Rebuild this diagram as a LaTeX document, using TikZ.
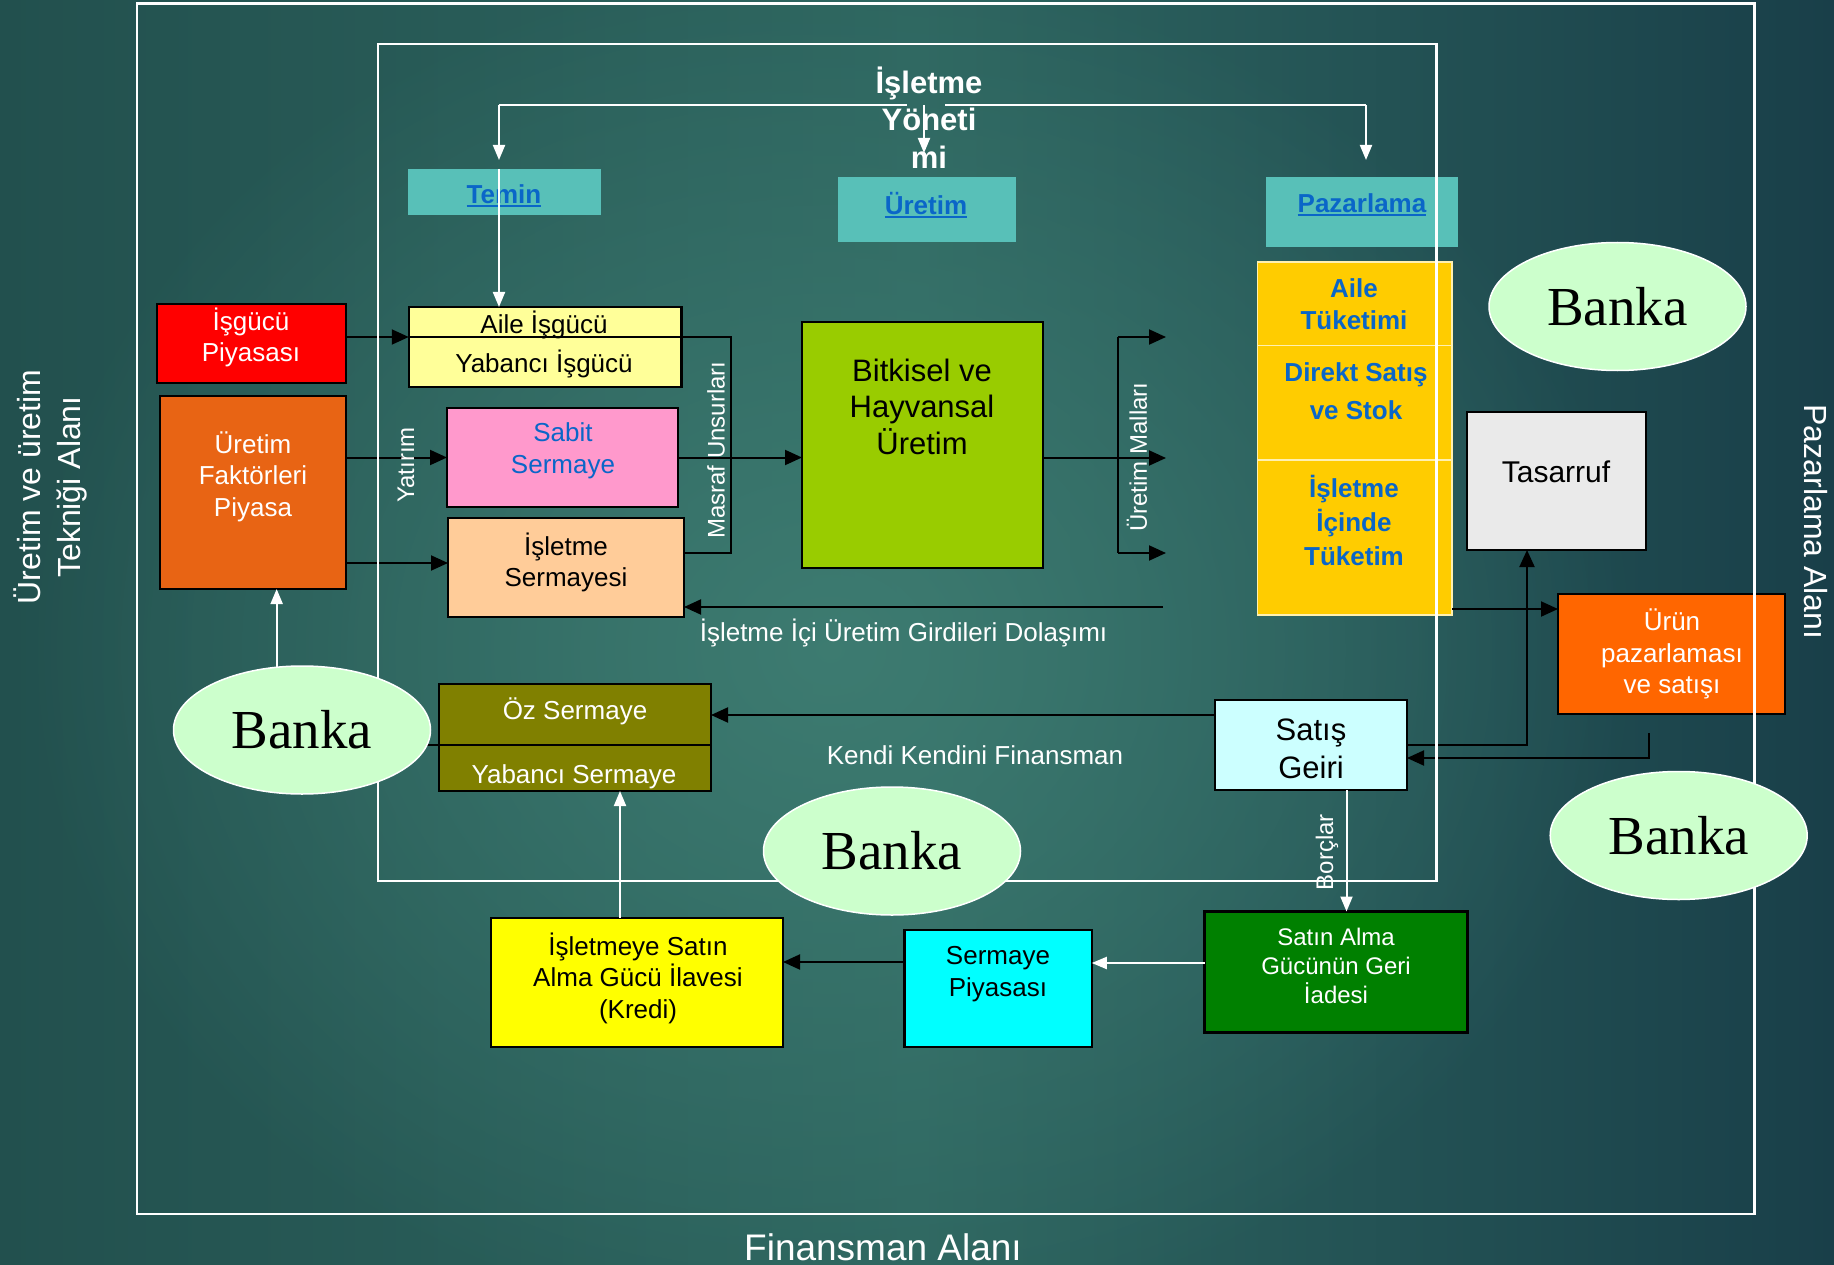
\documentclass[tikz,border=0pt]{standalone}
\usepackage{fontspec}
\setmainfont{Liberation Sans}
\newfontfamily\bankafont{Liberation Serif}
\usetikzlibrary{arrows.meta,shapes.geometric,fadings}
\tikzfading[name=glowfade, inner color=transparent!0, outer color=transparent!100]
\definecolor{bgL}{HTML}{22504E}
\definecolor{bgM}{HTML}{2E6660}
\definecolor{bgR}{HTML}{193F49}
\definecolor{bgGlow}{HTML}{3F7E73}
\definecolor{redbox}{HTML}{FF0000}
\definecolor{orangebox}{HTML}{E86414}
\definecolor{lightyel}{HTML}{FFFF99}
\definecolor{pinkbox}{HTML}{FF99CC}
\definecolor{peachbox}{HTML}{FFCC99}
\definecolor{limebox}{HTML}{99CC00}
\definecolor{goldbox}{HTML}{FFCC00}
\definecolor{tealbox}{HTML}{58C0B8}
\definecolor{greybox}{HTML}{EAEAEA}
\definecolor{urunbox}{HTML}{FF6600}
\definecolor{satisbox}{HTML}{CCFFFF}
\definecolor{greenbox}{HTML}{008000}
\definecolor{cyanbox}{HTML}{00FFFF}
\definecolor{yelbox}{HTML}{FFFF00}
\definecolor{olivebox}{HTML}{808000}
\definecolor{bankcol}{HTML}{CCFFCC}
\definecolor{bluetxt}{HTML}{0A66C8}
\definecolor{colline}{HTML}{FFF0B0}
\newcommand{\ulx}[1]{\setbox0\hbox{#1}\rlap{\rule[-3.5pt]{\wd0}{2.2pt}}\box0}
\pgfdeclarelayer{fg}
\pgfsetlayers{main,fg}
\begin{document}
\begin{tikzpicture}[x=1pt,y=-1pt,
  bx/.style={draw=black,line width=2.5pt,inner sep=0pt,outer sep=0pt},
  tbox/.style={fill=tealbox,inner sep=0pt,outer sep=0pt},
  bank/.style={ellipse,fill=bankcol,draw=white,line width=1.5pt,inner sep=0pt,outer sep=0pt,
    minimum width=257pt,minimum height=128pt,font=\bankafont\fontsize{55}{60}\selectfont},
  tx/.style={inner sep=0pt,align=center,font=\fontsize{26}{31.6}\selectfont},
  blt/.style={text=bluetxt,font=\bfseries\fontsize{26}{31.6}\selectfont},
  lab/.style={inner sep=0pt,text=white,font=\fontsize{24}{28}\selectfont},
  blk/.style={draw=black,line width=2pt},
  barr/.style={-{Triangle[length=17pt,width=15pt]}},
  wl/.style={draw=white,line width=2pt},
  warr/.style={-{Triangle[length=15pt,width=12pt]}}]
\useasboundingbox (0,0) rectangle (1834,1265);
\shade[left color=bgL,right color=bgR,middle color=bgM] (0,0) rectangle (1834,1265);
\fill[bgGlow,path fading=glowfade,fill opacity=0.9] (20,-50) rectangle (1640,1350);

% Banka ellipses (foreground layer)
\begin{pgfonlayer}{fg}
\node[bank] (bankaL) at (302,730) {Banka};
\node[bank] (bankaB) at (892,851) {Banka};
\node[bank] (bankaTR) at (1617.5,306.5) {Banka};
\node[bank] (bankaBR) at (1678.7,835.5) {Banka};
\end{pgfonlayer}

% boxes
\node[bx,fill=redbox,minimum width=189pt,minimum height=79pt] (isgucu) at (251.5,343.5) {};
\node[tx,text=white] (isgucuT) at (251,337.5) {İşgücü\\Piyasası};
\node[bx,fill=orangebox,minimum width=186pt,minimum height=193pt] (uretimf) at (253,492.5) {};
\node[tx,text=white] (uretimfT) at (253,476.5) {Üretim\\Faktörleri\\Piyasa};
\node[bx,fill=lightyel,minimum width=272.5pt,minimum height=80pt] (aile) at (545,347) {};
\node[tx] (aileT) at (544,325) {Aile İşgücü};
\node[tx] (yabT) at (544,364) {Yabancı İşgücü};
\node[bx,fill=pinkbox,minimum width=231pt,minimum height=99pt] (sabit) at (562.5,457.5) {};
\node[tx,text=bluetxt] (sabitT) at (563,451) {Sabit\\Sermaye};
\node[bx,fill=peachbox,minimum width=236pt,minimum height=99pt] (isletmes) at (566,567.5) {};
\node[tx] (isletmesT) at (566,562.5) {İşletme\\Sermayesi};
\node[bx,fill=limebox,minimum width=241pt,minimum height=246pt] (bitkisel) at (922.5,445) {};
\node[tx,font=\fontsize{31}{36.7}\selectfont] (bitkiselT) at (922,406.7) {Bitkisel ve\\Hayvansal\\Üretim};

\node[fill=goldbox,draw=colline,line width=1.5pt,inner sep=0pt,outer sep=0pt,minimum width=194.5pt,minimum height=353pt] (column) at (1354.75,438.5) {};
\draw[draw=colline,line width=1.5pt] (column.west |- 0,345.7) -- (column.east |- 0,345.7);
\draw[draw=colline,line width=1.5pt] (column.west |- 0,460) -- (column.east |- 0,460);
\node[tx,blt] (c1) at (1354,304) {Aile\\Tüketimi};
\node[tx,blt,font=\bfseries\fontsize{26}{38.3}\selectfont] (c2) at (1356,391) {Direkt Satış\\ve Stok};
\node[tx,blt,font=\bfseries\fontsize{26}{34}\selectfont] (c3) at (1354,520) {İşletme\\İçinde\\Tüketim};

\node[tbox,minimum width=193pt,minimum height=46pt] (temin) at (504.5,192) {};
\node[tx,blt] (teminT) at (504,196) {\ulx{Temin}};
\node[tbox,minimum width=178pt,minimum height=65pt] (uretimh) at (927,209.5) {};
\node[tx,blt] (uretimhT) at (926,205) {\ulx{Üretim}};
\node[tbox,minimum width=192pt,minimum height=70pt] (pazarlama) at (1362,212) {};
\node[tx,blt] (pazarlamaT) at (1362,205) {\ulx{Pazarlama}};

\node[tx,text=white,font=\bfseries\fontsize{31}{37.5}\selectfont] (yon) at (929,117.5) {İşletme\\Yöneti\\mi};

\node[bx,fill=greybox,minimum width=179pt,minimum height=138pt] (tasarruf) at (1556.5,481) {};
\node[tx,font=\fontsize{30}{36}\selectfont] (tasarrufT) at (1556,472) {Tasarruf};
\node[bx,fill=urunbox,minimum width=227pt,minimum height=120pt] (urun) at (1671.5,654) {};
\node[tx,text=white] (urunT) at (1672,654) {Ürün\\pazarlaması\\ve satışı};
\node[bx,fill=satisbox,minimum width=192pt,minimum height=90pt] (satis) at (1311,745) {};
\node[tx,font=\fontsize{31}{38}\selectfont] (satisT) at (1311,749) {Satış\\Geiri};
\node[bx,fill=greenbox,minimum width=263pt,minimum height=121pt] (satinalma) at (1336,972) {};
\node[tx,text=white,font=\fontsize{24}{29.3}\selectfont] (satinalmaT) at (1336,966) {Satın Alma\\Gücünün Geri\\İadesi};
\node[bx,fill=cyanbox,minimum width=187.5pt,minimum height=117pt] (sermayep) at (998,988.5) {};
\node[tx] (sermayepT) at (998,974) {Sermaye\\Piyasası};
\node[bx,fill=yelbox,minimum width=292pt,minimum height=129pt] (isletmeye) at (637,982.5) {};
\node[tx] (isletmeyeT) at (638,978.3) {İşletmeye Satın\\Alma Gücü İlavesi\\(Kredi)};
\node[bx,fill=olivebox,minimum width=272pt,minimum height=107pt] (oz) at (575,737.5) {};
\node[tx,text=white] (ozT) at (575,711.7) {Öz Sermaye};
\node[tx,text=white] (yabsT) at (574,776.7) {Yabancı Sermaye};

% black connectors
\draw[blk,barr] (isgucu.east |- 0,337) -- (aile.west |- 0,337);
\draw[blk] (aile.west |- 0,337) -- (aile.east |- 0,337);
\draw[blk,barr] (uretimf.east |- sabit.west) -- (sabit.west);
\draw[blk,barr] (uretimf.east |- 0,563) -- (isletmes.west |- 0,563);
\coordinate (m1) at (731,337);
\coordinate (m2) at (731,553);
\draw[blk] (aile.east |- m1) -- (m1) -- (m2) -- (isletmes.east |- m2);
\draw[blk,barr] (sabit.east) -- (bitkisel.west |- sabit.east);
\coordinate (u1) at (1118,337);
\coordinate (u2) at (1118,458);
\coordinate (u3) at (1118,553);
\coordinate (v1) at (1166,337);
\coordinate (v2) at (1166,458);
\coordinate (v3) at (1166,553);
\draw[blk] (bitkisel.east |- u2) -- (u2);
\draw[blk] (u1) -- (u3);
\draw[blk,barr] (u1) -- (v1);
\draw[blk,barr] (u2) -- (v2);
\draw[blk,barr] (u3) -- (v3);
\coordinate (dol0) at (1163,607);
\draw[blk,barr] (dol0) -- (isletmes.east |- dol0);
\draw[blk,barr] (column.east |- 0,609) -- (urun.west |- 0,609);
\coordinate (tk) at (1527,745);
\draw[blk,barr] (satis.east) -- (tk) -- (tk |- tasarruf.south);
\coordinate (uk) at (1649,733);
\draw[blk,barr] (uk) |- (satis.east |- 0,758);
\draw[blk,barr] (satis.west |- 0,715) -- (oz.east |- 0,715);
\draw[blk] (bankaL.-7) -- (oz.east |- bankaL.-7);
\draw[blk,barr] (sermayep.west |- 0,962) -- (isletmeye.east |- 0,962);

% white connectors
\draw[wl,warr] (satis.south -| 1346.5,0) -- (satinalma.north -| 1346.5,0);
\draw[wl,warr] (satinalma.west |- 0,963) -- (sermayep.east |- 0,963);
\draw[wl,warr] (isletmeye.north -| 620,0) -- (oz.south -| 620,0);
\draw[wl,warr] (bankaL.112) -- (bankaL.112 |- uretimf.south);
\coordinate (yl) at (499,105);
\coordinate (ym) at (924,105);
\coordinate (yr) at (1366,105);
\coordinate (g1) at (907,105);
\coordinate (g2) at (945,105);
\draw[wl] (yl) -- (g1);
\draw[wl] (g2) -- (yr);
\draw[wl,warr,shorten >=9pt] (yl) -- (yl |- temin.north);
\draw[wl,warr,shorten >=24pt] (ym) -- (ym |- uretimh.north);
\draw[wl,warr,shorten >=17pt] (yr) -- (yr |- pazarlama.north);
\draw[wl,warr] (yl |- temin.north) -- (yl |- aile.north);

% labels (over the connectors)
\node[lab,rotate=90] (yatirim) at (406,465) {Yatırım};
\node[lab,rotate=90] (masraf) at (716,450) {Masraf Unsurları};
\node[lab,rotate=90] (umal) at (1137,457) {Üretim Malları};
\node[lab,rotate=90] (borclar) at (1327,852) {Borçlar};
\node[tx,text=white] (dolasim) at (903.5,633) {İşletme İçi Üretim Girdileri Dolaşımı};
\node[tx,text=white] (kendi) at (975,755) {Kendi Kendini Finansman};
\node[inner sep=0pt,align=center,text=white,rotate=90,font=\fontsize{32}{40}\selectfont] (leftlab) at (50,487) {Üretim ve üretim\\Tekniği Alanı};
\node[inner sep=0pt,text=white,rotate=-90,font=\fontsize{32}{40}\selectfont] (rightlab) at (1816,522) {Pazarlama Alanı};
\node[inner sep=0pt,text=white,font=\fontsize{37}{44}\selectfont] (botlab) at (883,1247) {Finansman Alanı};

% area frames
\draw[white,line width=2.5pt] (137,3.5) rectangle (1754.6,1214);
\draw[white,line width=2.2pt] (378,44) rectangle (1436.5,881);
\end{tikzpicture}
\end{document}
